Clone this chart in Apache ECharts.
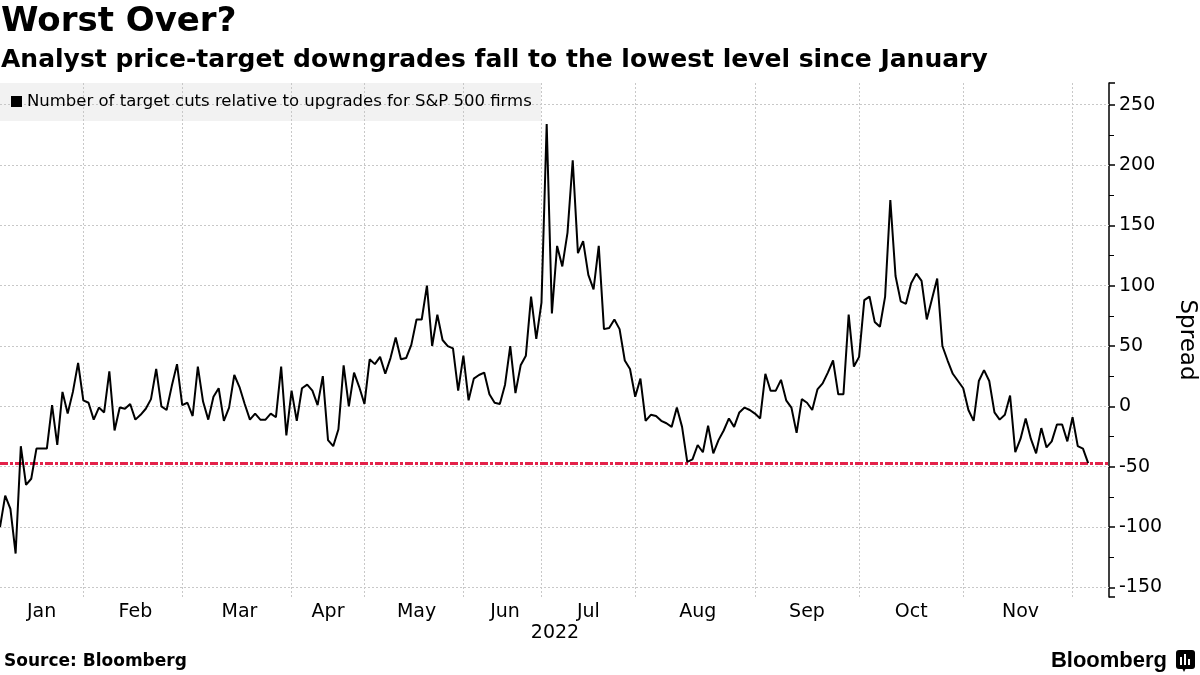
<!DOCTYPE html>
<html>
<head>
<meta charset="utf-8">
<script src="https://cdn.jsdelivr.net/npm/echarts@6/dist/echarts.min.js"></script>
<style>
  html, body { margin: 0; padding: 0; background: #fff; }
  #chart { width: 1200px; height: 675px; }
</style>
</head>
<body>
<div id="chart"></div>
<script>
// ---- Data ----
const titleText = 'Worst Over?';
const subtitleText = 'Analyst price-target downgrades fall to the lowest level since January';
const seriesName = 'Number of target cuts relative to upgrades for S&P 500 firms';
const sourceText = 'Source: Bloomberg';
const yearLabel = '2022';
const axisName = 'Spread';

const months = ['Jan', 'Feb', 'Mar', 'Apr', 'May', 'Jun', 'Jul', 'Aug', 'Sep', 'Oct', 'Nov'];
// index of first observation of each month (last entry = start of Dec)
const monthStartIdx = [0, 16, 35, 56, 70, 89, 104, 122, 145, 165, 185, 206];
const totalSlots = 214;

// spread values, one per observation
const spread = [
  -100, -74, -85, -122, -33, -65, -60, -35, -35, -35,
  1, -32, 12, -6, 12, 36, 5, 3, -11, -1,
  -5, 29, -20, -1, -2, 2, -11, -7, -2, 6,
  31, 0, -3, 17, 35, 1, 3, -8, 33, 4,
  -11, 8, 15, -12, -1, 26, 16, 2, -11, -6,
  -11, -11, -6, -9, 33, -24, 13, -12, 15, 18,
  13, 1, 25, -28, -33, -19, 34, 0, 28, 16,
  2, 39, 35, 41, 27, 40, 57, 39, 40, 51,
  72, 72, 100, 50, 76, 55, 50, 48, 13, 42,
  5, 23, 26, 28, 10, 3, 2, 18, 50, 11,
  34, 42, 91, 56, 86, 234, 77, 133, 116, 144,
  204, 127, 137, 109, 97, 133, 64, 65, 72, 64,
  38, 31, 8, 23, -12, -7, -8, -12, -14, -17,
  -1, -17, -46, -44, -32, -38, -16, -39, -28, -20,
  -10, -17, -5, -1, -3, -6, -10, 27, 13, 13,
  22, 5, -1, -22, 6, 3, -3, 14, 19, 28,
  38, 10, 10, 76, 33, 41, 88, 91, 70, 66,
  91, 171, 108, 87, 85, 102, 110, 104, 72, 89,
  106, 50, 38, 27, 21, 15, -3, -12, 21, 30,
  21, -5, -11, -7, 9, -38, -27, -10, -27, -39,
  -18, -34, -29, -15, -15, -29, -9, -33, -35, -47
];
const lowLevel = -47;
const yGridValues = [-150, -100, -50, 0, 50, 100, 150, 200, 250];

// ---- Derived ----
const categories = [];
for (let i = 0; i < totalSlots; i++) {
  let m = 0;
  for (let j = 0; j < months.length; j++) if (i >= monthStartIdx[j]) m = j;
  categories.push(months[m]);
}
const labelIdx = months.map((m, j) => Math.round((monthStartIdx[j] + monthStartIdx[j + 1]) / 2));
const boundaryIdx = monthStartIdx.slice(1);

const FONT = 'DejaVu Sans';

const chart = echarts.init(document.getElementById('chart'), null, { renderer: 'canvas' });
chart.setOption({
  animation: false,
  backgroundColor: '#ffffff',
  textStyle: { fontFamily: FONT },
  grid: { left: 0, right: 91, top: 83, bottom: 78, containLabel: false, outerBoundsMode: 'none' },
  xAxis: {
    type: 'category',
    data: categories,
    boundaryGap: false,
    axisLine: { show: false },
    axisTick: { show: false },
    axisLabel: {
      interval: (i) => labelIdx.includes(i),
      color: '#000', fontSize: 19, fontFamily: FONT, margin: 6
    },
    splitLine: {
      show: true,
      interval: (i) => boundaryIdx.includes(i),
      lineStyle: { color: '#c8c8c8', type: [2, 2], width: 1 }
    }
  },
  yAxis: {
    type: 'value',
    position: 'right',
    min: -158, max: 268,
    minInterval: 50, maxInterval: 50, splitNumber: 8,
    name: axisName,
    nameLocation: 'middle',
    nameRotate: -90,
    nameGap: 66,
    nameTextStyle: { color: '#000', fontSize: 23, fontFamily: FONT },
    axisLine: { show: true, lineStyle: { color: '#000', width: 1.5 } },
    axisTick: { show: true, length: 6, lineStyle: { color: '#000', width: 1.5 } },
    minorTick: { show: true, splitNumber: 2, length: 5, lineStyle: { color: '#000', width: 1 } },
    axisLabel: {
      color: '#000', fontSize: 19, fontFamily: FONT, margin: 10,
      showMinLabel: false, showMaxLabel: false
    },
    splitLine: { show: false }
  },
  series: [{
    name: seriesName,
    type: 'line',
    data: spread,
    symbol: 'none',
    lineStyle: { color: '#000', width: 2 },
    z: 5,
    markLine: {
      silent: true,
      symbol: ['none', 'none'],
      label: { show: false },
      animation: false,
      data: yGridValues.map(v => ({
        yAxis: v,
        lineStyle: { color: '#c8c8c8', type: [2, 2], width: 1 }
      })).concat([{
        yAxis: lowLevel,
        lineStyle: { color: '#e3224a', type: [8, 2, 3, 2], width: 3 }
      }])
    }
  }],
  graphic: [
    { type: 'text', left: 1, top: 5, z: 10,
      style: { text: titleText, fill: '#000', font: 'bold 34px "DejaVu Sans"' } },
    { type: 'text', left: 1, top: 48, z: 10,
      style: { text: subtitleText, fill: '#000', font: 'bold 25px "DejaVu Sans"' } },
    { type: 'rect', shape: { x: 0, y: 83, width: 541, height: 38 }, z: -1,
      style: { fill: '#f2f2f2' } },
    { type: 'rect', shape: { x: 11, y: 96, width: 11, height: 11 }, z: 10,
      style: { fill: '#000' } },
    { type: 'text', x: 27, y: 102, z: 10,
      style: { text: seriesName, fill: '#000', font: '16.5px "DejaVu Sans"', textVerticalAlign: 'middle' } },
    { type: 'text', x: 555, y: 633, z: 10,
      style: { text: yearLabel, fill: '#000', font: '19px "DejaVu Sans"', textAlign: 'center', textVerticalAlign: 'middle' } },
    { type: 'text', x: 4, y: 662, z: 10,
      style: { text: sourceText, fill: '#000', font: 'bold 17px "DejaVu Sans"', textVerticalAlign: 'middle' } },
    { type: 'text', x: 1167, y: 661, z: 10,
      style: { text: 'Bloomberg', fill: '#000', font: 'bold 22px "Liberation Sans"', textAlign: 'right', textVerticalAlign: 'middle' } },
    { type: 'rect', shape: { x: 1176, y: 650, width: 19, height: 19, r: 3 }, z: 10,
      style: { fill: '#000' } },
    { type: 'polygon', shape: { points: [[1182, 668], [1186, 668], [1184, 672]] }, z: 10,
      style: { fill: '#000' } },
    { type: 'rect', shape: { x: 1180, y: 657, width: 2, height: 8 }, z: 11, style: { fill: '#fff' } },
    { type: 'rect', shape: { x: 1184, y: 654, width: 2, height: 11 }, z: 11, style: { fill: '#fff' } },
    { type: 'rect', shape: { x: 1188, y: 659, width: 2, height: 6 }, z: 11, style: { fill: '#fff' } }
  ]
});
</script>
</body>
</html>
